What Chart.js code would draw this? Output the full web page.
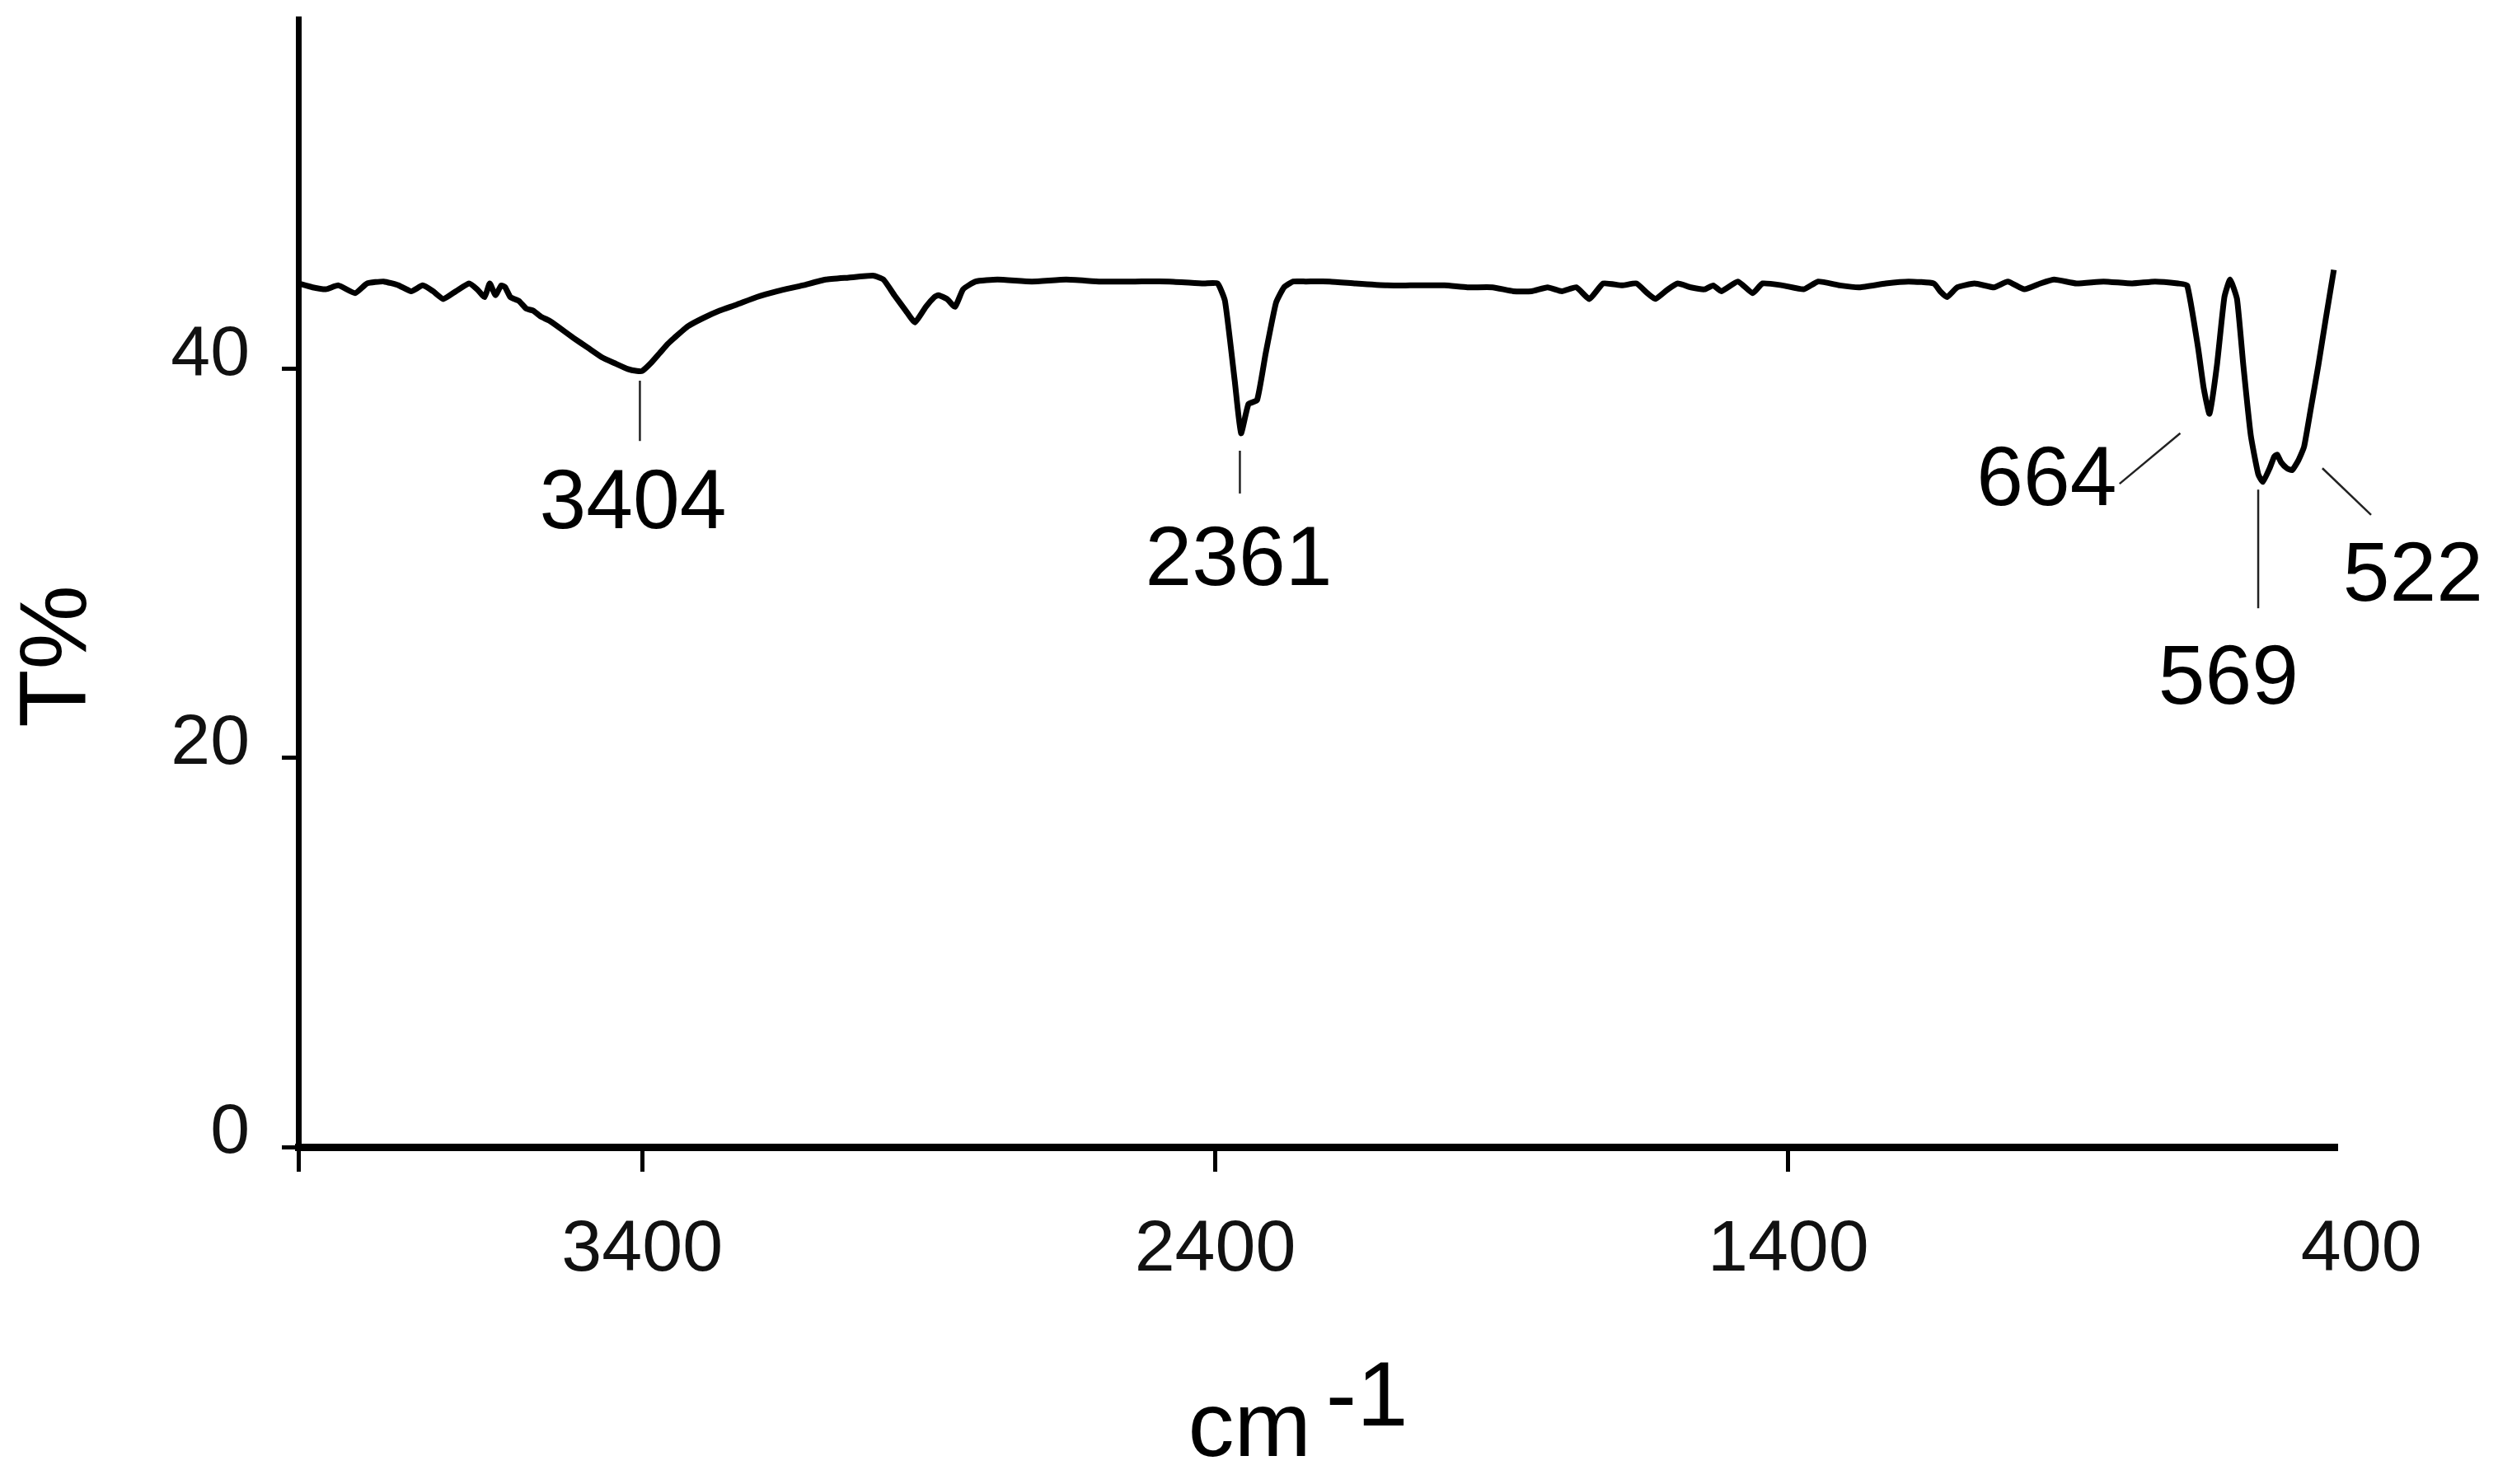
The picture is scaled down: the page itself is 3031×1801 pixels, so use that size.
<!DOCTYPE html>
<html>
<head>
<meta charset="utf-8">
<script src="https://cdn.jsdelivr.net/npm/chart.js@4.4.1/dist/chart.umd.min.js"></script>
<style>
  html, body { margin: 0; padding: 0; background: #fff; }
  canvas { display: block; }
</style>
</head>
<body>
<canvas id="ir" width="3031" height="1801"></canvas>
<script>
'use strict';

/* FT-IR spectrum (cm-1 vs T%) */
const wavenumbers = [
  4000, 3975, 3952, 3930, 3901, 3880, 3851, 3825, 3803, 3783, 3765, 3747, 3725, 3702, 3688,
  3675, 3666, 3656, 3646, 3639, 3630, 3615, 3602, 3590, 3577, 3563, 3548, 3520, 3495, 3470,
  3448, 3425, 3409, 3400, 3385, 3370, 3355, 3344, 3320, 3295, 3265, 3236, 3200, 3164, 3120,
  3080, 3040, 2997, 2979, 2960, 2940, 2924, 2905, 2890, 2883, 2868, 2854, 2840, 2818, 2780,
  2720, 2660, 2600, 2540, 2480, 2420, 2396, 2383, 2366, 2355, 2342, 2327, 2312, 2294, 2280,
  2264, 2242, 2200, 2155, 2100, 2060, 2000, 1960, 1916, 1880, 1848, 1820, 1795, 1770, 1747,
  1723, 1690, 1665, 1646, 1632, 1610, 1593, 1570, 1546, 1531, 1517, 1488, 1462, 1445, 1410,
  1373, 1348, 1310, 1276, 1230, 1190, 1146, 1135, 1123, 1105, 1075, 1041, 1017, 988, 960,
  936, 897, 850, 800, 760, 720, 704, 685, 675, 665, 652, 639, 629, 617, 606,
  593, 580, 572, 560, 552, 547, 540, 530, 521, 510, 500, 488, 475, 462, 448
];
const transmittance = [
  44.4, 44.2, 44.1, 44.3, 43.9, 44.4, 44.5, 44.3, 44.0, 44.3, 44.0, 43.6, 44.0, 44.4, 44.1,
  43.7, 44.4, 43.8, 44.3, 44.2, 43.7, 43.5, 43.1, 43.0, 42.7, 42.5, 42.2, 41.6, 41.1, 40.6,
  40.3, 40.0, 39.9, 39.9, 40.3, 40.8, 41.3, 41.6, 42.2, 42.6, 43.0, 43.3, 43.7, 44.0, 44.3,
  44.6, 44.7, 44.8, 44.6, 43.8, 43.0, 42.4, 43.2, 43.7, 43.8, 43.6, 43.2, 44.1, 44.5, 44.6,
  44.5, 44.6, 44.5, 44.5, 44.5, 44.4, 44.4, 43.5, 39.4, 36.7, 38.2, 38.4, 40.8, 43.4, 44.2,
  44.5, 44.5, 44.5, 44.4, 44.3, 44.3, 44.3, 44.2, 44.2, 44.0, 44.0, 44.2, 44.0, 44.2, 43.6,
  44.4, 44.3, 44.4, 43.9, 43.6, 44.1, 44.4, 44.2, 44.1, 44.3, 44.0, 44.5, 43.9, 44.4, 44.3,
  44.1, 44.5, 44.3, 44.2, 44.4, 44.5, 44.4, 44.0, 43.7, 44.2, 44.4, 44.2, 44.5, 44.1, 44.4,
  44.6, 44.4, 44.5, 44.4, 44.5, 44.4, 44.3, 41.1, 39.0, 37.7, 40.2, 43.7, 44.6, 43.6, 40.2,
  36.6, 34.6, 34.2, 34.9, 35.5, 35.6, 35.2, 34.9, 34.8, 35.3, 36.0, 38.0, 40.2, 42.6, 45.1
];

const xTickValues = [4000, 3400, 2400, 1400, 400];
const yTickValues = [0, 20, 40];

/* peak callouts: text, leader line ends and text anchor in data units */
const peakTexts = ['3404', '2361', '664', '569', '522'];
const peakLeaders = [
  [3404, 39.4, 3404, 36.3],
  [2357, 35.8, 2357, 33.6],
  [822, 34.1, 716, 36.7],
  [580, 33.8, 580, 27.7],
  [468, 34.9, 383, 32.5]
];
const peakTextAt = [
  [3416, 31.8],
  [2359, 28.9],
  [949, 33.0],
  [632, 22.8],
  [310, 28.1]
];

const FONT = "'Liberation Sans', Arial, Helvetica, sans-serif";

const peakPlugin = {
  id: 'peakCallouts',
  afterDraw(chart) {
    const { ctx, scales: { x, y } } = chart;
    ctx.save();
    ctx.strokeStyle = '#222';
    ctx.lineWidth = 2.5;
    peakLeaders.forEach(l => {
      ctx.beginPath();
      ctx.moveTo(x.getPixelForValue(l[0]), y.getPixelForValue(l[1]));
      ctx.lineTo(x.getPixelForValue(l[2]), y.getPixelForValue(l[3]));
      ctx.stroke();
    });
    ctx.fillStyle = '#000';
    ctx.font = '102px ' + FONT;
    ctx.textAlign = 'center';
    ctx.textBaseline = 'alphabetic';
    peakTexts.forEach((t, i) => {
      ctx.fillText(t, x.getPixelForValue(peakTextAt[i][0]), y.getPixelForValue(peakTextAt[i][1]));
    });
    ctx.restore();
  }
};

/* axis titles: T% (rotated) and cm-1 with a full-size raised exponent */
const titlePlugin = {
  id: 'axisTitles',
  afterDraw(chart) {
    const { ctx, chartArea } = chart;
    ctx.save();
    ctx.fillStyle = '#000';
    ctx.font = '115px ' + FONT;
    ctx.textBaseline = 'middle';
    ctx.textAlign = 'center';
    ctx.translate(72, chartArea.top + (chartArea.bottom - chartArea.top) * 0.565);
    ctx.rotate(-Math.PI / 2);
    ctx.fillText('T%', 0, 0);
    ctx.restore();

    ctx.save();
    ctx.fillStyle = '#000';
    ctx.textBaseline = 'alphabetic';
    ctx.textAlign = 'left';
    ctx.font = '112px ' + FONT;
    const base = 'cm';
    const sup = '-1';
    const wBase = ctx.measureText(base).width;
    const wSup = ctx.measureText(sup).width;
    const gap = 18;
    const cx = (chartArea.left + chartArea.right) / 2 - 24;
    const left = cx - (wBase + gap + wSup) / 2;
    ctx.fillText(base, left, 1767);
    ctx.fillText(sup, left + wBase + gap, 1730);
    ctx.restore();
  }
};

const points = wavenumbers.map((w, i) => ({ x: w, y: transmittance[i] }));

new Chart(document.getElementById('ir'), {
  type: 'line',
  data: {
    datasets: [{
      label: 'T%',
      data: points,
      borderColor: '#000',
      borderWidth: 7,
      pointRadius: 0,
      tension: 0.15,
      fill: false
    }]
  },
  options: {
    responsive: false,
    animation: false,
    layout: { padding: { top: 23, right: 195, left: 0, bottom: 0 } },
    plugins: {
      legend: { display: false },
      tooltip: { enabled: false }
    },
    scales: {
      x: {
        type: 'linear',
        reverse: true,
        min: 442,
        max: 4000,
        afterBuildTicks: s => { s.ticks = xTickValues.map(v => ({ value: v })); },
        afterFit: s => { s.height = 409; s.paddingLeft = 0; s.paddingRight = 0; },
        border: { display: true, color: '#000', width: 9 },
        grid: {
          drawOnChartArea: false,
          drawTicks: true,
          tickLength: 30,
          tickWidth: 5,
          tickColor: c => (c.tick && c.tick.value === 400) ? 'rgba(0,0,0,0)' : '#000'
        },
        ticks: {
          autoSkip: false,
          maxRotation: 0,
          padding: 43,
          color: '#111',
          font: { family: FONT, size: 88 },
          callback: v => v === 4000 ? '' : String(v)
        }
      },
      y: {
        min: 0,
        max: 58,
        afterBuildTicks: s => { s.ticks = yTickValues.map(v => ({ value: v })); },
        afterFit: s => { s.width = 362; s.paddingTop = 0; s.paddingBottom = 0; },
        border: { display: true, color: '#000', width: 7 },
        grid: {
          drawOnChartArea: false,
          drawTicks: true,
          tickLength: 20,
          tickWidth: 5,
          tickColor: '#000'
        },
        ticks: {
          padding: 39,
          labelOffset: -17,
          color: '#111',
          font: { family: FONT, size: 86 }
        }
      }
    }
  },
  plugins: [peakPlugin, titlePlugin]
});
</script>
</body>
</html>
